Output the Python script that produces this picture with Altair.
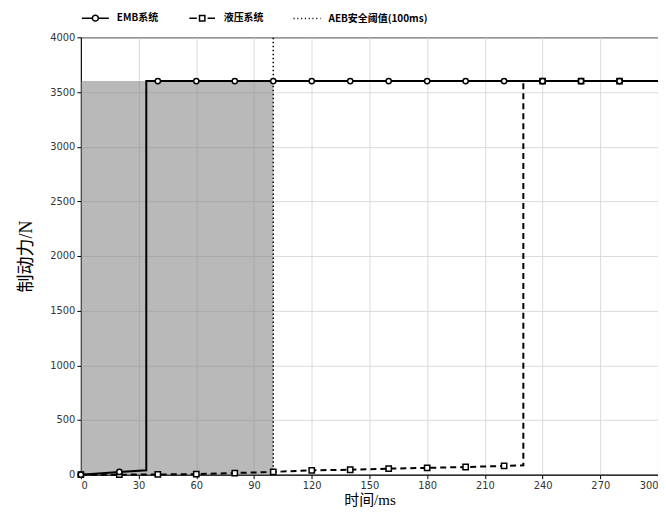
import altair as alt
import pandas as pd

# ---- data ----
emb_line_t = [0, 20, 34, 34, 300]
emb_line_f = [0, 25, 40, 3600, 3600]
emb_mark_t = [0, 20, 40, 60, 80, 100, 120, 140, 160, 180, 200, 220, 240, 260, 280]
emb_mark_f = [0, 25, 3600, 3600, 3600, 3600, 3600, 3600, 3600, 3600, 3600, 3600, 3600, 3600, 3600]

hyd_line_t = [0, 20, 40, 60, 80, 100, 120, 140, 160, 180, 200, 220, 230, 230, 300]
hyd_line_f = [0, 0, 2, 5, 15, 25, 40, 45, 55, 62, 70, 80, 85, 3600, 3600]
hyd_mark_t = [0, 20, 40, 60, 80, 100, 120, 140, 160, 180, 200, 220, 240, 260, 280]
hyd_mark_f = [0, 0, 2, 5, 15, 25, 40, 45, 55, 62, 70, 80, 3600, 3600, 3600]

aeb_t = [100, 100]
aeb_f = [0, 4000]

shade_t = [0, 100]
shade_f = [0, 3600]

series = ["EMB系统", "液压系统", "AEB安全阈值(100ms)"]
x_ticks = [0, 30, 60, 90, 120, 150, 180, 210, 240, 270, 300]
y_ticks = [0, 500, 1000, 1500, 2000, 2500, 3000, 3500, 4000]

# legend symbols (line + marker) as custom paths
sym_emb = "M-1,0L-0.22,0M0.22,0L1,0M-0.22,0A0.22,0.22,0,1,1,0.22,0A0.22,0.22,0,1,1,-0.22,0Z"
sym_hyd = "M-0.95,0L-0.4,0M-0.2,-0.2L0.2,-0.2L0.2,0.2L-0.2,0.2ZM0.4,0L0.95,0"
sym_aeb = ("M-1,0L-0.92,0M-0.72,0L-0.64,0M-0.44,0L-0.36,0M-0.16,0L-0.08,0"
           "M0.12,0L0.2,0M0.4,0L0.48,0M0.68,0L0.76,0M0.96,0L1,0")

emb_line = pd.DataFrame({"t": emb_line_t, "f": emb_line_f, "i": range(len(emb_line_t))})
emb_mark = pd.DataFrame({"t": emb_mark_t, "f": emb_mark_f})
hyd_line = pd.DataFrame({"t": hyd_line_t, "f": hyd_line_f, "i": range(len(hyd_line_t))})
hyd_mark = pd.DataFrame({"t": hyd_mark_t, "f": hyd_mark_f})
aeb = pd.DataFrame({"t": aeb_t, "f": aeb_f, "i": [0, 1]})
shade = pd.DataFrame({"t": [shade_t[0]], "t2": [shade_t[1]], "f": [shade_f[0]], "f2": [shade_f[1]]})
leg = pd.DataFrame({"s": series})

serif = "Liberation Serif, Noto Sans CJK SC"
tickfont = "Liberation Sans Narrow, DejaVu Sans Condensed, sans-serif"

X = alt.X("t:Q", scale=alt.Scale(domain=[0, 300], nice=False, zero=False),
          axis=alt.Axis(values=x_ticks, format="d", title="时间/ms", titleFont=serif, titleFontSize=15,
                        titleFontWeight="normal", titlePadding=2, labelPadding=1))
Y = alt.Y("f:Q", scale=alt.Scale(domain=[0, 4000], nice=False),
          axis=alt.Axis(values=y_ticks, format="d", title="制动力/N", titleFont=serif, titleFontSize=18,
                        titleFontWeight="normal", titlePadding=14))

shade_layer = alt.Chart(shade).mark_rect(color="#808080", opacity=0.55).encode(
    x=X, x2="t2:Q", y=Y, y2="f2:Q")

emb_l = alt.Chart(emb_line).mark_line(color="black", strokeWidth=2).encode(
    x=X, y=Y, order="i:Q")
hyd_l = alt.Chart(hyd_line).mark_line(color="black", strokeWidth=2, strokeDash=[6, 4]).encode(
    x=X, y=Y, order="i:Q")
aeb_l = alt.Chart(aeb).mark_line(color="black", strokeWidth=1.5, strokeDash=[1.5, 2.5]).encode(
    x=X, y=Y, order="i:Q")

hyd_p = alt.Chart(hyd_mark).mark_point(shape="square", filled=True, fill="white", stroke="black",
                                       strokeWidth=1.5, size=28, opacity=1).encode(x=X, y=Y)
emb_p = alt.Chart(emb_mark).mark_point(shape="circle", filled=True, fill="white", stroke="black",
                                       strokeWidth=1.5, size=28, opacity=1).encode(x=X, y=Y)

legend_layer = alt.Chart(leg).mark_point(color="black", filled=False, strokeWidth=1.5, opacity=1).encode(
    shape=alt.Shape("s:N", scale=alt.Scale(domain=series, range=[sym_emb, sym_hyd, sym_aeb]),
                    legend=alt.Legend(orient="none", legendX=0, legendY=-34, direction="horizontal",
                                      columns=3, title=None, symbolSize=729, symbolStrokeWidth=1.5,
                                      symbolStrokeColor="black", symbolFillColor="transparent",
                                      labelFont="Noto Sans CJK SC", labelFontSize=10,
                                      labelFontWeight="bold", labelColor="black",
                                      columnPadding=27, labelOffset=7))
).transform_filter("false")

chart = alt.layer(shade_layer, hyd_l, emb_l, aeb_l, hyd_p, emb_p, legend_layer).properties(
    width=578, height=438,
    autosize=alt.AutoSizeParams(type="none"),
    padding={"left": 73, "top": 29, "right": 0, "bottom": 35},
).configure_view(stroke="black", strokeWidth=1).configure_axis(
    domainColor="black", tickColor="black", tickSize=4, gridColor="#d3d3d3", gridWidth=0.8,
    labelFont=tickfont, labelFontSize=11, labelColor="#333333", titleColor="black"
)

chart.save("out.html", embed_options={"renderer": "svg", "actions": False})
